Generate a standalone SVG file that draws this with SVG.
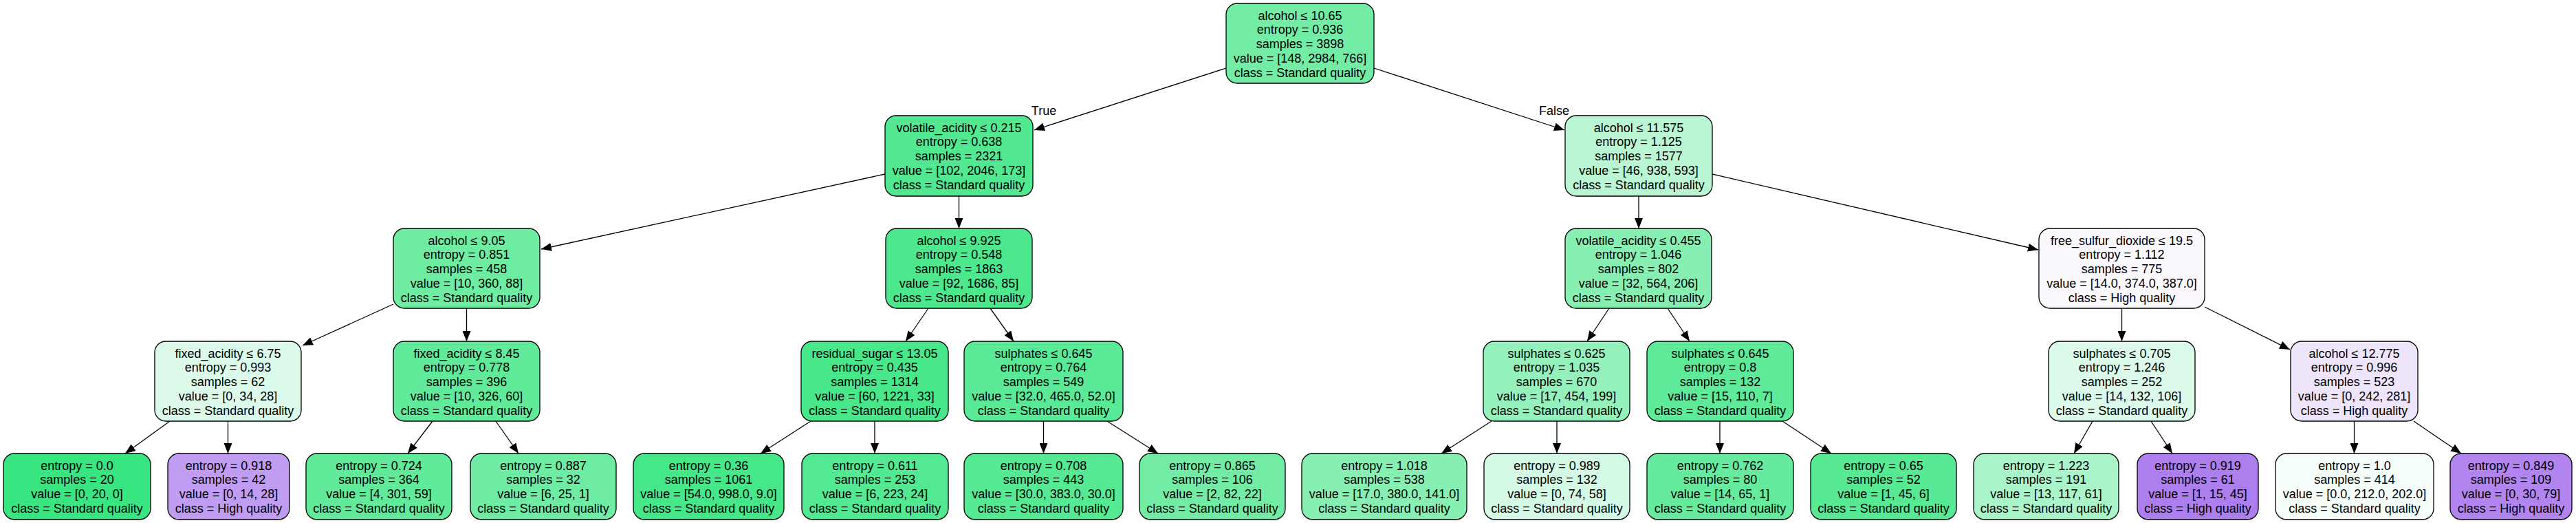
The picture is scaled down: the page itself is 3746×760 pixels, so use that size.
<svg xmlns="http://www.w3.org/2000/svg" width="3746" height="760" viewBox="0 0 3746 760">
<style>
.b{stroke:#000;stroke-width:1.3}
.t{font-family:"Liberation Sans",Arial,sans-serif;font-size:18px;fill:#000;text-anchor:middle}
.e{stroke:#000;stroke-width:1.3;fill:none;marker-end:url(#ah)}
</style>
<defs>
<marker id="ah" markerUnits="userSpaceOnUse" markerWidth="16" markerHeight="12" refX="15" refY="6" orient="auto">
<path d="M0,0 L15,6 L0,12 z" fill="#000"/>
</marker>
</defs>
<rect width="3746" height="760" fill="#fff"/>
<g id="edges">
<line class="e" x1="1783" y1="99" x2="1504" y2="189"/>
<line class="e" x1="1998" y1="99" x2="2275" y2="189"/>
<line class="e" x1="1287" y1="253" x2="787" y2="362"/>
<line class="e" x1="1394.5" y1="285" x2="1394.5" y2="332"/>
<line class="e" x1="2383" y1="285" x2="2383" y2="332"/>
<line class="e" x1="2490" y1="253" x2="2964" y2="363"/>
<line class="e" x1="572" y1="442" x2="440" y2="502"/>
<line class="e" x1="678.5" y1="448" x2="678.5" y2="496"/>
<line class="e" x1="1350" y1="448" x2="1317" y2="496"/>
<line class="e" x1="1440" y1="448" x2="1474" y2="496"/>
<line class="e" x1="2340" y1="448" x2="2308" y2="496"/>
<line class="e" x1="2425" y1="448" x2="2457" y2="496"/>
<line class="e" x1="3085.5" y1="448" x2="3085.5" y2="496"/>
<line class="e" x1="3206" y1="446" x2="3330" y2="508"/>
<line class="e" x1="247" y1="612" x2="182" y2="659"/>
<line class="e" x1="331.5" y1="612" x2="331.5" y2="659"/>
<line class="e" x1="629" y1="612" x2="593" y2="659"/>
<line class="e" x1="721" y1="612" x2="754" y2="659"/>
<line class="e" x1="1179" y1="612" x2="1106" y2="659"/>
<line class="e" x1="1272" y1="612" x2="1272" y2="659"/>
<line class="e" x1="1517.5" y1="612" x2="1517.5" y2="659"/>
<line class="e" x1="1610" y1="612" x2="1684" y2="659"/>
<line class="e" x1="2169" y1="612" x2="2096" y2="659"/>
<line class="e" x1="2264" y1="612" x2="2264" y2="659"/>
<line class="e" x1="2501" y1="612" x2="2501" y2="659"/>
<line class="e" x1="2592" y1="612" x2="2663" y2="659"/>
<line class="e" x1="3043" y1="612" x2="3016" y2="659"/>
<line class="e" x1="3128" y1="612" x2="3159" y2="659"/>
<line class="e" x1="3423.5" y1="612" x2="3423.5" y2="659"/>
<line class="e" x1="3510" y1="612" x2="3579" y2="659"/>
<text class="t" x="1518" y="167">True</text>
<text class="t" x="2260" y="167">False</text>
</g>
<g id="n0"><rect class="b" x="1783" y="5" width="215" height="116" rx="16" fill="#73eda6"/>
<text class="t"><tspan x="1890.5" y="28.5">alcohol ≤ 10.65</tspan><tspan x="1890.5" y="49.3">entropy = 0.936</tspan><tspan x="1890.5" y="70.1">samples = 3898</tspan><tspan x="1890.5" y="90.9">value = [148, 2984, 766]</tspan><tspan x="1890.5" y="111.7">class = Standard quality</tspan></text></g>
<g id="n1"><rect class="b" x="1287" y="168" width="215" height="117" rx="16" fill="#52e891"/>
<text class="t"><tspan x="1394.5" y="191.5">volatile_acidity ≤ 0.215</tspan><tspan x="1394.5" y="212.3">entropy = 0.638</tspan><tspan x="1394.5" y="233.1">samples = 2321</tspan><tspan x="1394.5" y="253.9">value = [102, 2046, 173]</tspan><tspan x="1394.5" y="274.7">class = Standard quality</tspan></text></g>
<g id="n2"><rect class="b" x="2276" y="168" width="214" height="117" rx="16" fill="#baf6d3"/>
<text class="t"><tspan x="2383" y="191.5">alcohol ≤ 11.575</tspan><tspan x="2383" y="212.3">entropy = 1.125</tspan><tspan x="2383" y="233.1">samples = 1577</tspan><tspan x="2383" y="253.9">value = [46, 938, 593]</tspan><tspan x="2383" y="274.7">class = Standard quality</tspan></text></g>
<g id="n3"><rect class="b" x="572" y="332" width="213" height="116" rx="16" fill="#6deca2"/>
<text class="t"><tspan x="678.5" y="355.5">alcohol ≤ 9.05</tspan><tspan x="678.5" y="376.3">entropy = 0.851</tspan><tspan x="678.5" y="397.1">samples = 458</tspan><tspan x="678.5" y="417.9">value = [10, 360, 88]</tspan><tspan x="678.5" y="438.7">class = Standard quality</tspan></text></g>
<g id="n4"><rect class="b" x="1288" y="332" width="213" height="116" rx="16" fill="#4de88e"/>
<text class="t"><tspan x="1394.5" y="355.5">alcohol ≤ 9.925</tspan><tspan x="1394.5" y="376.3">entropy = 0.548</tspan><tspan x="1394.5" y="397.1">samples = 1863</tspan><tspan x="1394.5" y="417.9">value = [92, 1686, 85]</tspan><tspan x="1394.5" y="438.7">class = Standard quality</tspan></text></g>
<g id="n5"><rect class="b" x="2276" y="332" width="213" height="116" rx="16" fill="#88efb3"/>
<text class="t"><tspan x="2382.5" y="355.5">volatile_acidity ≤ 0.455</tspan><tspan x="2382.5" y="376.3">entropy = 1.046</tspan><tspan x="2382.5" y="397.1">samples = 802</tspan><tspan x="2382.5" y="417.9">value = [32, 564, 206]</tspan><tspan x="2382.5" y="438.7">class = Standard quality</tspan></text></g>
<g id="n6"><rect class="b" x="2965" y="332" width="241" height="116" rx="16" fill="#fbf9fe"/>
<text class="t"><tspan x="3085.5" y="355.5">free_sulfur_dioxide ≤ 19.5</tspan><tspan x="3085.5" y="376.3">entropy = 1.112</tspan><tspan x="3085.5" y="397.1">samples = 775</tspan><tspan x="3085.5" y="417.9">value = [14.0, 374.0, 387.0]</tspan><tspan x="3085.5" y="438.7">class = High quality</tspan></text></g>
<g id="n7"><rect class="b" x="225" y="496" width="213" height="116" rx="16" fill="#dcfae9"/>
<text class="t"><tspan x="331.5" y="519.5">fixed_acidity ≤ 6.75</tspan><tspan x="331.5" y="540.3">entropy = 0.993</tspan><tspan x="331.5" y="561.1">samples = 62</tspan><tspan x="331.5" y="581.9">value = [0, 34, 28]</tspan><tspan x="331.5" y="602.7">class = Standard quality</tspan></text></g>
<g id="n8"><rect class="b" x="572" y="496" width="213" height="116" rx="16" fill="#62ea9b"/>
<text class="t"><tspan x="678.5" y="519.5">fixed_acidity ≤ 8.45</tspan><tspan x="678.5" y="540.3">entropy = 0.778</tspan><tspan x="678.5" y="561.1">samples = 396</tspan><tspan x="678.5" y="581.9">value = [10, 326, 60]</tspan><tspan x="678.5" y="602.7">class = Standard quality</tspan></text></g>
<g id="n9"><rect class="b" x="1165" y="496" width="214" height="116" rx="16" fill="#48e78a"/>
<text class="t"><tspan x="1272" y="519.5">residual_sugar ≤ 13.05</tspan><tspan x="1272" y="540.3">entropy = 0.435</tspan><tspan x="1272" y="561.1">samples = 1314</tspan><tspan x="1272" y="581.9">value = [60, 1221, 33]</tspan><tspan x="1272" y="602.7">class = Standard quality</tspan></text></g>
<g id="n10"><rect class="b" x="1402" y="496" width="231" height="116" rx="16" fill="#5ae996"/>
<text class="t"><tspan x="1517.5" y="519.5">sulphates ≤ 0.645</tspan><tspan x="1517.5" y="540.3">entropy = 0.764</tspan><tspan x="1517.5" y="561.1">samples = 549</tspan><tspan x="1517.5" y="581.9">value = [32.0, 465.0, 52.0]</tspan><tspan x="1517.5" y="602.7">class = Standard quality</tspan></text></g>
<g id="n11"><rect class="b" x="2157" y="496" width="213" height="116" rx="16" fill="#94f1bb"/>
<text class="t"><tspan x="2263.5" y="519.5">sulphates ≤ 0.625</tspan><tspan x="2263.5" y="540.3">entropy = 1.035</tspan><tspan x="2263.5" y="561.1">samples = 670</tspan><tspan x="2263.5" y="581.9">value = [17, 454, 199]</tspan><tspan x="2263.5" y="602.7">class = Standard quality</tspan></text></g>
<g id="n12"><rect class="b" x="2395" y="496" width="213" height="116" rx="16" fill="#5eea99"/>
<text class="t"><tspan x="2501.5" y="519.5">sulphates ≤ 0.645</tspan><tspan x="2501.5" y="540.3">entropy = 0.8</tspan><tspan x="2501.5" y="561.1">samples = 132</tspan><tspan x="2501.5" y="581.9">value = [15, 110, 7]</tspan><tspan x="2501.5" y="602.7">class = Standard quality</tspan></text></g>
<g id="n13"><rect class="b" x="2979" y="496" width="213" height="116" rx="16" fill="#dcfae9"/>
<text class="t"><tspan x="3085.5" y="519.5">sulphates ≤ 0.705</tspan><tspan x="3085.5" y="540.3">entropy = 1.246</tspan><tspan x="3085.5" y="561.1">samples = 252</tspan><tspan x="3085.5" y="581.9">value = [14, 132, 106]</tspan><tspan x="3085.5" y="602.7">class = Standard quality</tspan></text></g>
<g id="n14"><rect class="b" x="3331" y="496" width="185" height="116" rx="16" fill="#eee4fb"/>
<text class="t"><tspan x="3423.5" y="519.5">alcohol ≤ 12.775</tspan><tspan x="3423.5" y="540.3">entropy = 0.996</tspan><tspan x="3423.5" y="561.1">samples = 523</tspan><tspan x="3423.5" y="581.9">value = [0, 242, 281]</tspan><tspan x="3423.5" y="602.7">class = High quality</tspan></text></g>
<g id="l1"><rect class="b" x="5" y="659" width="214" height="96" rx="16" fill="#39e581"/>
<text class="t"><tspan x="112" y="682.5">entropy = 0.0</tspan><tspan x="112" y="703.3">samples = 20</tspan><tspan x="112" y="724.1">value = [0, 20, 0]</tspan><tspan x="112" y="744.9">class = Standard quality</tspan></text></g>
<g id="l2"><rect class="b" x="244" y="659" width="177" height="96" rx="16" fill="#c09cf2"/>
<text class="t"><tspan x="332.5" y="682.5">entropy = 0.918</tspan><tspan x="332.5" y="703.3">samples = 42</tspan><tspan x="332.5" y="724.1">value = [0, 14, 28]</tspan><tspan x="332.5" y="744.9">class = High quality</tspan></text></g>
<g id="l3"><rect class="b" x="445" y="659" width="212" height="96" rx="16" fill="#62ea9b"/>
<text class="t"><tspan x="551" y="682.5">entropy = 0.724</tspan><tspan x="551" y="703.3">samples = 364</tspan><tspan x="551" y="724.1">value = [4, 301, 59]</tspan><tspan x="551" y="744.9">class = Standard quality</tspan></text></g>
<g id="l4"><rect class="b" x="684" y="659" width="212" height="96" rx="16" fill="#6eeca3"/>
<text class="t"><tspan x="790" y="682.5">entropy = 0.887</tspan><tspan x="790" y="703.3">samples = 32</tspan><tspan x="790" y="724.1">value = [6, 25, 1]</tspan><tspan x="790" y="744.9">class = Standard quality</tspan></text></g>
<g id="l5"><rect class="b" x="921" y="659" width="219" height="96" rx="16" fill="#45e789"/>
<text class="t"><tspan x="1030.5" y="682.5">entropy = 0.36</tspan><tspan x="1030.5" y="703.3">samples = 1061</tspan><tspan x="1030.5" y="724.1">value = [54.0, 998.0, 9.0]</tspan><tspan x="1030.5" y="744.9">class = Standard quality</tspan></text></g>
<g id="l6"><rect class="b" x="1166" y="659" width="213" height="96" rx="16" fill="#53e892"/>
<text class="t"><tspan x="1272.5" y="682.5">entropy = 0.611</tspan><tspan x="1272.5" y="703.3">samples = 253</tspan><tspan x="1272.5" y="724.1">value = [6, 223, 24]</tspan><tspan x="1272.5" y="744.9">class = Standard quality</tspan></text></g>
<g id="l7"><rect class="b" x="1402" y="659" width="231" height="96" rx="16" fill="#56e993"/>
<text class="t"><tspan x="1517.5" y="682.5">entropy = 0.708</tspan><tspan x="1517.5" y="703.3">samples = 443</tspan><tspan x="1517.5" y="724.1">value = [30.0, 383.0, 30.0]</tspan><tspan x="1517.5" y="744.9">class = Standard quality</tspan></text></g>
<g id="l8"><rect class="b" x="1657" y="659" width="212" height="96" rx="16" fill="#72eca5"/>
<text class="t"><tspan x="1763" y="682.5">entropy = 0.865</tspan><tspan x="1763" y="703.3">samples = 106</tspan><tspan x="1763" y="724.1">value = [2, 82, 22]</tspan><tspan x="1763" y="744.9">class = Standard quality</tspan></text></g>
<g id="l9"><rect class="b" x="1893" y="659" width="240" height="96" rx="16" fill="#88efb3"/>
<text class="t"><tspan x="2013" y="682.5">entropy = 1.018</tspan><tspan x="2013" y="703.3">samples = 538</tspan><tspan x="2013" y="724.1">value = [17.0, 380.0, 141.0]</tspan><tspan x="2013" y="744.9">class = Standard quality</tspan></text></g>
<g id="l10"><rect class="b" x="2158" y="659" width="212" height="96" rx="16" fill="#d4f9e4"/>
<text class="t"><tspan x="2264" y="682.5">entropy = 0.989</tspan><tspan x="2264" y="703.3">samples = 132</tspan><tspan x="2264" y="724.1">value = [0, 74, 58]</tspan><tspan x="2264" y="744.9">class = Standard quality</tspan></text></g>
<g id="l11"><rect class="b" x="2395" y="659" width="213" height="96" rx="16" fill="#66eb9e"/>
<text class="t"><tspan x="2501.5" y="682.5">entropy = 0.762</tspan><tspan x="2501.5" y="703.3">samples = 80</tspan><tspan x="2501.5" y="724.1">value = [14, 65, 1]</tspan><tspan x="2501.5" y="744.9">class = Standard quality</tspan></text></g>
<g id="l12"><rect class="b" x="2633" y="659" width="212" height="96" rx="16" fill="#57e994"/>
<text class="t"><tspan x="2739" y="682.5">entropy = 0.65</tspan><tspan x="2739" y="703.3">samples = 52</tspan><tspan x="2739" y="724.1">value = [1, 45, 6]</tspan><tspan x="2739" y="744.9">class = Standard quality</tspan></text></g>
<g id="l13"><rect class="b" x="2870" y="659" width="211" height="96" rx="16" fill="#aaf4c9"/>
<text class="t"><tspan x="2975.5" y="682.5">entropy = 1.223</tspan><tspan x="2975.5" y="703.3">samples = 191</tspan><tspan x="2975.5" y="724.1">value = [13, 117, 61]</tspan><tspan x="2975.5" y="744.9">class = Standard quality</tspan></text></g>
<g id="l14"><rect class="b" x="3108" y="659" width="176" height="96" rx="16" fill="#ad7eee"/>
<text class="t"><tspan x="3196" y="682.5">entropy = 0.919</tspan><tspan x="3196" y="703.3">samples = 61</tspan><tspan x="3196" y="724.1">value = [1, 15, 45]</tspan><tspan x="3196" y="744.9">class = High quality</tspan></text></g>
<g id="l15"><rect class="b" x="3309" y="659" width="230" height="96" rx="16" fill="#f5fef9"/>
<text class="t"><tspan x="3424" y="682.5">entropy = 1.0</tspan><tspan x="3424" y="703.3">samples = 414</tspan><tspan x="3424" y="724.1">value = [0.0, 212.0, 202.0]</tspan><tspan x="3424" y="744.9">class = Standard quality</tspan></text></g>
<g id="l16"><rect class="b" x="3563" y="659" width="177" height="96" rx="16" fill="#b184ef"/>
<text class="t"><tspan x="3651.5" y="682.5">entropy = 0.849</tspan><tspan x="3651.5" y="703.3">samples = 109</tspan><tspan x="3651.5" y="724.1">value = [0, 30, 79]</tspan><tspan x="3651.5" y="744.9">class = High quality</tspan></text></g>
</svg>
